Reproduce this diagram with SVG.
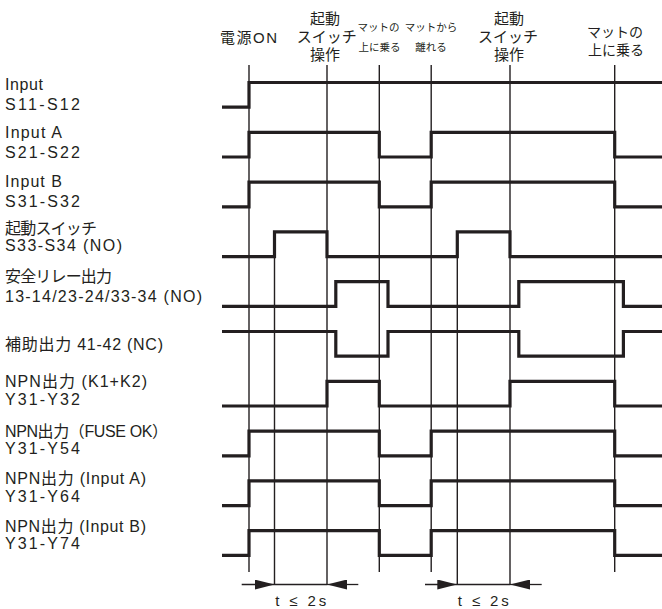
<svg xmlns="http://www.w3.org/2000/svg" width="662" height="609" viewBox="0 0 662 609">
<style>
  text { font-family: "Liberation Sans", "Noto Sans CJK JP", sans-serif; fill: #231f20; }
  .lbl { font-size: 16px; }
  .top { font-size: 15px; text-anchor: middle; }
  .sm { font-size: 10.5px; text-anchor: middle; }
  .rt { font-size: 14px; text-anchor: middle; }
  .grid { stroke: #231f20; stroke-width: 1.4; fill: none; }
  .wave { stroke: #231f20; stroke-width: 3.2; fill: none; stroke-linejoin: miter; stroke-linecap: butt; }
  .dim { stroke: #231f20; stroke-width: 1.3; fill: none; }
</style>
<defs>
  <marker id="ah" viewBox="0 0 20 10" refX="20" refY="5" markerWidth="20" markerHeight="10" markerUnits="userSpaceOnUse" orient="auto">
    <path d="M0,0 L20,5 L0,10 Z" fill="#231f20"/>
  </marker>
</defs>
<rect width="662" height="609" fill="#ffffff"/>

<g id="event-labels">
  <text class="top" x="248.5" y="43" textLength="57">電源ON</text>
  <text class="top" x="325" y="24">起動</text>
  <text class="top" x="326.7" y="42">スイッチ</text>
  <text class="top" x="325" y="60">操作</text>
  <text class="sm" x="378.5" y="31">マットの</text>
  <text class="sm" x="379.5" y="51">上に乗る</text>
  <text class="sm" x="431" y="31">マットから</text>
  <text class="sm" x="431" y="51">離れる</text>
  <text class="top" x="509" y="24">起動</text>
  <text class="top" x="508" y="42">スイッチ</text>
  <text class="top" x="509" y="60">操作</text>
  <text class="rt" x="615" y="37">マットの</text>
  <text class="rt" x="616" y="55">上に乗る</text>
</g>

<g id="signal-labels">
  <text class="lbl" x="5" y="89.5" textLength="38">Input</text>
  <text class="lbl" x="5" y="110" textLength="75">S11-S12</text>
  <text class="lbl" x="5" y="138.3" textLength="57">Input A</text>
  <text class="lbl" x="5" y="158.3" textLength="75">S21-S22</text>
  <text class="lbl" x="5" y="186.5" textLength="57">Input B</text>
  <text class="lbl" x="5" y="206.5" textLength="75">S31-S32</text>
  <text class="lbl" x="5" y="233.5" textLength="92">起動スイッチ</text>
  <text class="lbl" x="5" y="251" textLength="117">S33-S34 (NO)</text>
  <text class="lbl" x="5" y="282" textLength="107">安全リレー出力</text>
  <text class="lbl" x="5" y="301.5" textLength="197">13-14/23-24/33-34 (NO)</text>
  <text class="lbl" x="5" y="350" textLength="158">補助出力 41-42 (NC)</text>
  <text class="lbl" x="5" y="386.5" textLength="142">NPN出力 (K1+K2)</text>
  <text class="lbl" x="5" y="405" textLength="75">Y31-Y32</text>
  <text class="lbl" x="5" y="436.5" textLength="163">NPN出力（FUSE OK）</text>
  <text class="lbl" x="5" y="454" textLength="75">Y31-Y54</text>
  <text class="lbl" x="5" y="484" textLength="141">NPN出力 (Input A)</text>
  <text class="lbl" x="5" y="501.7" textLength="75">Y31-Y64</text>
  <text class="lbl" x="5" y="531.7" textLength="141">NPN出力 (Input B)</text>
  <text class="lbl" x="5" y="549.3" textLength="75">Y31-Y74</text>
</g>

<g id="event-lines">
  <path class="grid" d="M249,65 V572"/>
  <path class="grid" d="M274.5,231.9 V585"/>
  <path class="grid" d="M327,65 V585"/>
  <path class="grid" d="M379.3,65 V572"/>
  <path class="grid" d="M431.2,65 V572"/>
  <path class="grid" d="M457.3,231.9 V585"/>
  <path class="grid" d="M510,65 V585"/>
  <path class="grid" d="M614.7,65 V572"/>
</g>

<g id="waveforms">
  <path id="w-s11" class="wave" d="M222,107.2 H249 V82.5 H662"/>
  <path id="w-s21" class="wave" d="M222,157 H249 V132.3 H379.3 V157 H431.2 V132.3 H614.7 V157 H662"/>
  <path id="w-s31" class="wave" d="M222,206.8 H249 V182.1 H379.3 V206.8 H431.2 V182.1 H614.7 V206.8 H662"/>
  <path id="w-s33" class="wave" d="M222,256.6 H274.5 V231.9 H327 V256.6 H457.3 V231.9 H510 V256.6 H662"/>
  <path id="w-relay" class="wave" d="M222,306.4 H335.8 V281.7 H388 V306.4 H518.8 V281.7 H623.4 V306.4 H662"/>
  <path id="w-aux" class="wave" d="M222,331.5 H335.8 V356.2 H388 V331.5 H518.8 V356.2 H623.4 V331.5 H662"/>
  <path id="w-y32" class="wave" d="M222,406 H327 V381.3 H379.3 V406 H510 V381.3 H614.7 V406 H662"/>
  <path id="w-y54" class="wave" d="M222,455.8 H249 V431.1 H379.3 V455.8 H431.2 V431.1 H614.7 V455.8 H662"/>
  <path id="w-y64" class="wave" d="M222,505.6 H249 V480.9 H379.3 V505.6 H431.2 V480.9 H614.7 V505.6 H662"/>
  <path id="w-y74" class="wave" d="M222,555.4 H249 V530.7 H379.3 V555.4 H431.2 V530.7 H614.7 V555.4 H662"/>
</g>

<g id="timing-1">
  <path class="dim" d="M241.7,584.5 H274.5" marker-end="url(#ah)"/>
  <path class="dim" d="M274.5,584.5 H327"/>
  <path class="dim" d="M358.3,584.5 H327" marker-end="url(#ah)"/>
  <text class="top" x="300.7" y="606" textLength="51">t ≤ 2s</text>
</g>
<g id="timing-2">
  <path class="dim" d="M425,584.5 H457.3" marker-end="url(#ah)"/>
  <path class="dim" d="M457.3,584.5 H510"/>
  <path class="dim" d="M541.7,584.5 H510" marker-end="url(#ah)"/>
  <text class="top" x="483.3" y="606" textLength="51">t ≤ 2s</text>
</g>
</svg>
